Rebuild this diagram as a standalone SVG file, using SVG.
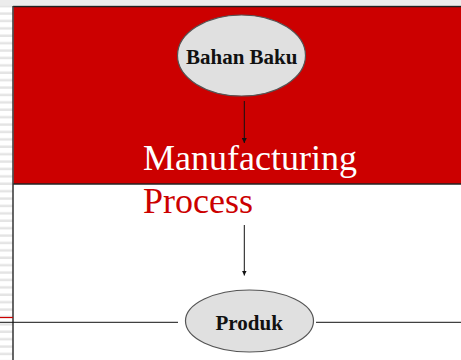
<svg xmlns="http://www.w3.org/2000/svg" width="461" height="360" viewBox="0 0 461 360">
<style>
.node ellipse{fill:#e0e0e0;stroke:#555;stroke-width:1.2}
.lbl{font-family:"Liberation Serif","Times New Roman",serif;font-weight:bold;font-size:21px;fill:#111;text-anchor:middle}
.big{font-family:"Liberation Serif","Times New Roman",serif;font-size:36px}
.conn line{stroke:#111;stroke-width:1}
</style>
<defs>
<pattern id="stripes" x="0" y="0" width="14" height="7.4" patternUnits="userSpaceOnUse">
<rect x="0" y="0" width="14" height="7.4" fill="#fff"/>
<rect x="0" y="5" width="14" height="2.4" fill="#e4e4e4"/>
</pattern>
<marker id="arr" viewBox="0 0 10 10" refX="10" refY="5" markerWidth="5" markerHeight="5" orient="auto" markerUnits="userSpaceOnUse">
<path d="M0,0 L10,5 L0,10 z" fill="#111"/>
</marker>
</defs>
<rect x="0" y="0" width="461" height="360" fill="#fff"/>
<rect x="0" y="0" width="13" height="360" fill="url(#stripes)"/>
<rect x="0" y="0" width="461" height="5" fill="#ececec"/>
<rect x="13.5" y="6.5" width="448" height="177.5" fill="#cc0000"/>
<line x1="13" y1="6.5" x2="461" y2="6.5" stroke="#222" stroke-width="1.5"/>
<line x1="13" y1="184" x2="461" y2="184" stroke="#222" stroke-width="1.5"/>
<line x1="13" y1="6" x2="13" y2="360" stroke="#333" stroke-width="1.5"/>
<line x1="0" y1="317.5" x2="13" y2="317.5" stroke="#cc0000" stroke-width="1.2"/>
<g class="conn">
<line x1="0" y1="322.3" x2="178" y2="322.3" stroke="#333" stroke-width="1.3"/>
<line x1="316" y1="322.3" x2="461" y2="322.3" stroke="#333" stroke-width="1.3"/>
<line x1="244.3" y1="101" x2="244.3" y2="143" marker-end="url(#arr)"/>
<line x1="244.3" y1="225" x2="244.3" y2="275.5" marker-end="url(#arr)"/>
</g>
<g id="bahan-baku" class="node">
<ellipse cx="241.5" cy="55.5" rx="64" ry="40.5"/>
<text class="lbl" x="241.7" y="64.3">Bahan Baku</text>
</g>
<g id="manufacturing-process">
<text class="big" x="143" y="170" fill="#fff">Manufacturing</text>
<text class="big" x="143" y="212.7" fill="#cc0000">Process</text>
</g>
<g id="produk" class="node">
<ellipse cx="249.5" cy="321" rx="64" ry="31"/>
<text class="lbl" x="249.2" y="330">Produk</text>
</g>
</svg>
